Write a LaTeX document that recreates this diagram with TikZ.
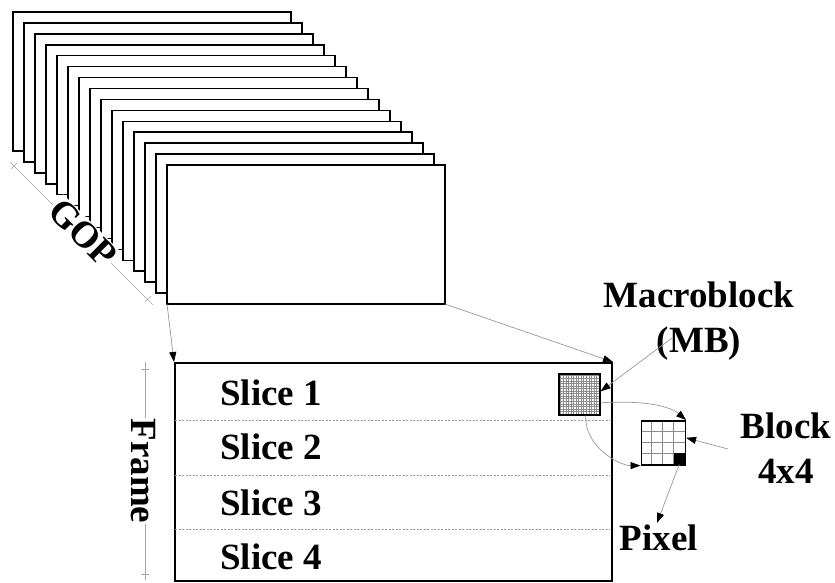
\documentclass[tikz,border=0pt]{standalone}
\usepackage{fontspec}
\setmainfont{Liberation Serif}
\usetikzlibrary{arrows.meta}
\begin{document}
\begin{tikzpicture}[x=1pt,y=-1pt,
  frm/.style={draw=black,line width=1.5pt,fill=white,minimum width=278pt,minimum height=139pt,inner sep=0pt,outer sep=0pt,anchor=north west},
  lbl/.style={font=\fontsize{37}{45}\selectfont\bfseries,inner sep=0pt},
  conn/.style={draw=black!40,line width=0.7pt,-{Triangle[length=10pt,width=7pt,color=black,fill=black]}},
  dimline/.style={draw=black!35,line width=0.6pt},
  gridline/.style={draw=black!45,line width=0.35pt},
  sliceline/.style={draw=black!40,line width=0.5pt,dashed,dash pattern=on 2pt off 1.5pt},
  ]
\useasboundingbox[fill=white] (0,0) rectangle (835,582);
% GOP stack of frames
\foreach \i in {0,...,14} {
  \node[frm] (f\i) at ({13+11*\i},{12+10.93*\i}) {};
}
% GOP dimension line
\coordinate (g1) at (10,162);
\coordinate (g2) at (153,305);
\draw[dimline] (g1) -- (g2);
\draw[dimline] (11,169) -- (17,163);
\draw[dimline] (145,302) -- (151,296);
\node[lbl,fill=white,rotate=-45,inner sep=1pt] (gop) at (83,233) {GOP};
% big frame
\node[draw,line width=2pt,minimum width=437pt,minimum height=218pt,anchor=north west,inner sep=0pt] (frame) at (174,362) {};
\foreach \y in {420,475,529} { \draw[sliceline] (175,\y) -- (610,\y); }
\node[lbl,anchor=base west] (s1) at (220,405) {Slice 1};
\node[lbl,anchor=base west] (s2) at (220,459) {Slice 2};
\node[lbl,anchor=base west] (s3) at (220,515) {Slice 3};
\node[lbl,anchor=base west] (s4) at (220,569) {Slice 4};
% frame dimension line
\draw[dimline] (145,362) -- (145,580);
\draw[dimline] (141,369) -- (149,369);
\draw[dimline] (141,574) -- (149,574);
\node[lbl,fill=white,rotate=-90,inner sep=1pt] (frlbl) at (143,471) {Frame};
% connectors from GOP frame to frame
\draw[conn] (f14.south west) -- (frame.north west);
\draw[conn] (f14.south east) -- (frame.north east);
% macroblock
\foreach \k in {1,...,15} {
  \draw[gridline] ({558+\k*2.5625},373) -- ({558+\k*2.5625},414);
  \draw[gridline] (558,{373+\k*2.5625}) -- (599,{373+\k*2.5625});
}
\node[draw,line width=1.6pt,minimum size=41pt,inner sep=0pt,anchor=north west] (mb) at (558,373) {};
% block 4x4
\foreach \k in {1,2,3} {
  \draw[gridline] ({640.5+\k*11},420) -- ({640.5+\k*11},464);
  \draw[gridline] (640.5,{420+\k*11}) -- (684.5,{420+\k*11});
}
\node[fill=black,minimum size=11pt,inner sep=0pt,anchor=north west] (pix) at (673.5,453) {};
\node[draw,line width=1.6pt,minimum size=44pt,inner sep=0pt,anchor=north west] (blk) at (640.5,420) {};
% labels
\node[lbl,align=center] (mblbl) at (699,321) {Macroblock\\(MB)};
\node[lbl,align=center] (blklbl) at (786,448) {Block\\4x4};
\node[lbl,anchor=base] (pixlbl) at (659,550) {Pixel};
% connectors
\coordinate (mbfrom) at (672,338);
\coordinate (bkfrom) at (728,449);
\coordinate (pixto) at (657,523);
\draw[conn] (mbfrom) -- ([yshift=3pt]mb.east);
\draw[conn] ([yshift=-8.5pt]mb.east) .. controls +(30,-2) and +(-20,-17) .. (blk.north east);
\draw[conn] ([xshift=6.5pt]mb.south) .. controls +(-2,30) and +(-22,0) .. (blk.south west);
\draw[conn] (bkfrom) -- ([yshift=5pt]blk.east);
\draw[conn] (pix.south) -- (pixto);
\end{tikzpicture}
\end{document}
